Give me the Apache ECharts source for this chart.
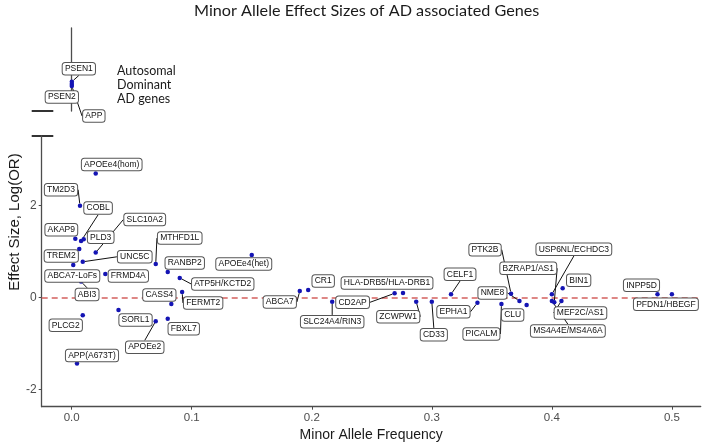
<!DOCTYPE html>
<html><head><meta charset="utf-8">
<script src="https://cdn.jsdelivr.net/npm/echarts@6/dist/echarts.min.js"></script>
<style>html,body{margin:0;padding:0;background:#fff}#c{width:708px;height:447px}</style>
</head><body><div id="c"></div>
<script>
// ---- data ----
const genes = ['APOEe4(hom)','TM2D3','COBL','PLD3','AKAP9','SLC10A2','TREM2','UNC5C','ABCA7-LoFs','FRMD4A','ABI3',
  'MTHFD1L','RANBP2','ATP5H/KCTD2','CASS4','FERMT2','PLCG2','SORL1','APOEe2','FBXL7','APP(A673T)','APOEe4(het)',
  'ABCA7','CR1','SLC24A4/RIN3','CD2AP','HLA-DRB5/HLA-DRB1','ZCWPW1','CD33','CELF1','EPHA1','PICALM','PTK2B','NME8',
  'CLU','USP6NL/ECHDC3','BZRAP1/AS1','MS4A4E/MS4A6A','MEF2C/AS1','BIN1','INPP5D','PFDN1/HBEGF'];
const maf = [0.020,0.0069,0.0078,0.010,0.003,0.020,0.0063,0.0092,0.0013,0.028,0.0078,
  0.070,0.080,0.090,0.083,0.092,0.0092,0.039,0.070,0.080,0.0044,0.150,
  0.190,0.197,0.217,0.269,0.276,0.287,0.300,0.316,0.338,0.358,0.366,0.373,
  0.379,0.400,0.402,0.400,0.408,0.409,0.488,0.500];
const logOR = [2.70,2.00,1.23,1.27,1.28,0.98,1.06,0.78,0.71,0.515,0.35,
  0.73,0.56,0.43,-0.137,0.124,-0.38,-0.27,-0.51,-0.46,-1.43,0.93,
  0.146,0.167,-0.087,0.095,0.10,-0.087,-0.087,0.074,-0.109,-0.137,0.087,-0.07,
  -0.16,0.074,-0.10,-0.07,-0.07,0.204,0.074,0.074];
const adGenes = ['PSEN1','PSEN2','APP'];
const adMaf = [0.0001,0.0001,0.0001];
const adLevel = [1.41,1.30,1.20];
const xTicks = [0,0.1,0.2,0.3,0.4,0.5];
const yTicks = [-2,0,2];

// ---- label layout (pixel offsets of label centre from its point) ----
const labelOffsets = [[16,-9],[-19,-16],[17,-33],[17,-2],[-14,-9],[49,-33],[-18,7],[52,-5],[-1,11],[23,2],[6,13],
  [24,-26],[17,-9],[43,6],[-12,-9],[21,11],[-17,10],[17,10],[-11,26],[16,10],[15,-8],[-8,9],
  [-20,11],[15,-9],[0,20],[-42,9],[-16,-10],[-18,15],[2,33],[9,-20],[-24,9],[-20,30],[-26,-44],[-27,-8],
  [-14,10],[22,-45],[-26,-34],[16,30],[19,12],[16,-8],[-16,-9],[-6,10]];
const labelLines = [0,1,1,0,0,1,0,1,0,0,1, 1,0,1,0,1,0,0,1,0,0,0, 1,0,1,1,0,1,1,1,1,1,1,1, 0,1,1,1,1,0,0,0];
const adOffsets = [[7,-13],[-10,13],[22,30]];
const adLines = [1,0,1];

const FONT = "'Liberation Sans', Arial, sans-serif";
const boxLabel = {
  show:true, position:'inside', formatter:'{b}', fontFamily:FONT, fontSize:8.5, lineHeight:9, color:'#111',
  backgroundColor:'#fff', borderColor:'#555', borderWidth:1, borderRadius:2.5, padding:[1.5,2.2,1,2.2]
};
function layoutFn(offs){
  return function(p){
    const o = offs[p.dataIndex];
    return {x: p.rect.x + p.rect.width/2 + o[0], y: p.rect.y + p.rect.height/2 + o[1], align:'center', verticalAlign:'middle'};
  };
}
const axisCol = '#4d4d4d';
const dotCol = '#1414b4';
const XMIN = -0.025, XMAX = 0.524;

const chart = echarts.init(document.getElementById('c'), null, {renderer:'canvas'});
chart.setOption({
  animation:false,
  backgroundColor:'#fff',
  title:{text:'Minor Allele Effect Sizes of AD associated Genes', left:194, top:2.5, padding:0,
    textStyle:{fontFamily:'Lato, sans-serif', fontSize:16.2, fontWeight:'normal', color:'#1a1a1a'}},
  grid:[
    {left:41.7, right:7.3, top:28, height:83, outerBoundsMode:'none'},
    {left:41.7, right:7.3, top:136, height:270.7, outerBoundsMode:'none'}
  ],
  xAxis:[
    {gridIndex:0, type:'value', min:XMIN, max:XMAX, show:false},
    {gridIndex:1, type:'value', min:XMIN, max:XMAX,
      axisLine:{show:true, onZero:false, lineStyle:{color:axisCol, width:1.3}},
      axisTick:{show:true, customValues:xTicks, length:3, lineStyle:{color:axisCol}},
      axisLabel:{customValues:xTicks, formatter:v=>v.toFixed(1), color:axisCol, fontSize:11.5, fontFamily:FONT, margin:5},
      splitLine:{show:false},
      name:'Minor Allele Frequency', nameLocation:'middle', nameGap:20,
      nameTextStyle:{fontFamily:FONT, fontSize:14, color:'#1a1a1a'}}
  ],
  yAxis:[
    {gridIndex:0, type:'value', min:0, max:4,
      axisLine:{show:true, lineStyle:{color:axisCol, width:1.3}},
      axisTick:{show:false}, axisLabel:{show:false}, splitLine:{show:false}},
    {gridIndex:1, type:'value', min:-2.37, max:3.515,
      axisLine:{show:true, onZero:false, lineStyle:{color:axisCol, width:1.3}},
      axisTick:{show:true, customValues:yTicks, length:3, lineStyle:{color:axisCol}},
      axisLabel:{customValues:yTicks, color:axisCol, fontSize:12, fontFamily:FONT, margin:5},
      splitLine:{show:false}}
  ],
  graphic:[
    {type:'text', x:15, y:222, rotation:Math.PI/2, style:{text:'Effect Size, Log(OR)', fontFamily:FONT, fontSize:15, fill:'#1a1a1a', align:'center', verticalAlign:'middle'}},
    {type:'text', x:117, y:64, style:{text:'Autosomal\nDominant\nAD genes', fontFamily:'Lato, sans-serif', fontSize:12.5, lineHeight:14, fill:'#1a1a1a'}},
    {type:'line', shape:{x1:31.7, y1:111, x2:53.3, y2:111}, style:{stroke:'#000', lineWidth:1.6}},
    {type:'line', shape:{x1:31.7, y1:136, x2:53.3, y2:136}, style:{stroke:'#000', lineWidth:1.6}}
  ],
  series:[
    {type:'scatter', xAxisIndex:0, yAxisIndex:0, symbolSize:4.5, itemStyle:{color:dotCol, opacity:1},
      data: adGenes.map((g,i)=>({name:g, value:[adMaf[i], adLevel[i]], labelLine:{show:!!adLines[i]}})),
      label: boxLabel, labelLayout: layoutFn(adOffsets),
      labelLine:{show:true, lineStyle:{color:'#111', width:1}}},
    {type:'scatter', xAxisIndex:1, yAxisIndex:1, symbolSize:4.5, itemStyle:{color:dotCol, opacity:1},
      data: genes.map((g,i)=>({name:g, value:[maf[i], logOR[i]], labelLine:{show:!!labelLines[i]}})),
      label: boxLabel, labelLayout: layoutFn(labelOffsets),
      labelLine:{show:true, lineStyle:{color:'#111', width:1}},
      markLine:{silent:true, symbol:'none', label:{show:false}, z:1,
        lineStyle:{color:'#d4605e', type:[6,4], width:1.5}, data:[{yAxis:0}]}}
  ]
});
</script></body></html>
